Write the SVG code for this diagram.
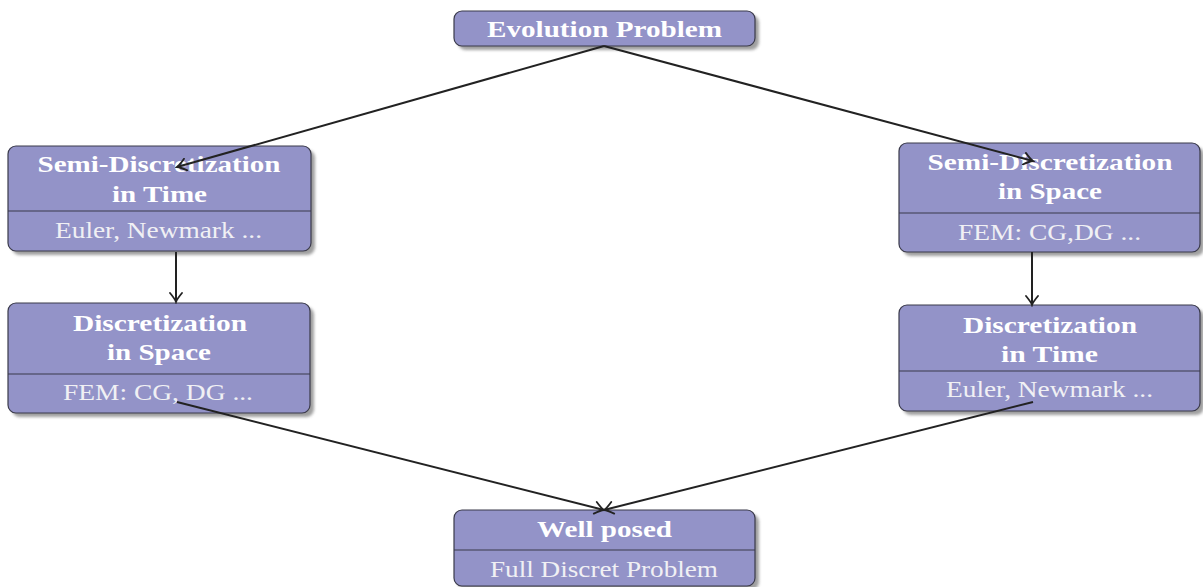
<svg xmlns="http://www.w3.org/2000/svg" width="1203" height="587" viewBox="0 0 1203 587">
<style>
.box{fill:#9393c8;stroke:#3a3a4a;stroke-width:1.2}
.shadow{fill:#808080;opacity:0.75;filter:url(#blur)}
.div{stroke:#3a3a4a;stroke-width:1.2}
.t{font-family:"Liberation Serif",serif;font-weight:bold;font-size:24px;fill:#ffffff;text-anchor:middle}
.s{font-family:"Liberation Serif",serif;font-size:24px;fill:#f0f0f4;text-anchor:middle}
.c{stroke:#222;stroke-width:2;fill:none;marker-end:url(#arr)}
</style>
<defs>
<filter id="blur" x="-10%" y="-10%" width="120%" height="130%"><feGaussianBlur stdDeviation="1.5"/></filter>
<marker id="arr" viewBox="-12 -7 14 14" refX="0" refY="0" markerWidth="14" markerHeight="14" markerUnits="userSpaceOnUse" orient="auto">
<path d="M-9,-6 Q-3,-1 0,0 Q-3,1 -9,6" fill="none" stroke="#222" stroke-width="1.8" stroke-linecap="round"/>
</marker>
</defs>
<g id="evolution">
<rect class="shadow" x="458" y="15" width="301" height="35" rx="8"/>
<rect class="box" x="454" y="11" width="301" height="35" rx="8"/>
<text class="t" x="604.5" y="37" textLength="235" lengthAdjust="spacingAndGlyphs">Evolution Problem</text>
</g>
<g id="semi-time">
<rect class="shadow" x="12" y="150" width="303" height="105" rx="8"/>
<rect class="box" x="8" y="146" width="303" height="105" rx="8"/>
<line class="div" x1="8" y1="211" x2="311" y2="211"/>
<text class="t" x="159" y="172" textLength="243" lengthAdjust="spacingAndGlyphs">Semi-Discretization</text>
<text class="t" x="159.5" y="202" textLength="95" lengthAdjust="spacingAndGlyphs">in Time</text>
<text class="s" x="158.5" y="238" textLength="207" lengthAdjust="spacingAndGlyphs">Euler, Newmark ...</text>
</g>
<g id="semi-space">
<rect class="shadow" x="903" y="147" width="301" height="109" rx="8"/>
<rect class="box" x="899" y="143" width="301" height="109" rx="8"/>
<line class="div" x1="899" y1="213" x2="1200" y2="213"/>
<text class="t" x="1050" y="170" textLength="245" lengthAdjust="spacingAndGlyphs">Semi-Discretization</text>
<text class="t" x="1050" y="199" textLength="104" lengthAdjust="spacingAndGlyphs">in Space</text>
<text class="s" x="1049.5" y="240" textLength="183" lengthAdjust="spacingAndGlyphs">FEM: CG,DG ...</text>
</g>
<g id="disc-space">
<rect class="shadow" x="12" y="307" width="302" height="110" rx="8"/>
<rect class="box" x="8" y="303" width="302" height="110" rx="8"/>
<line class="div" x1="8" y1="374" x2="310" y2="374"/>
<text class="t" x="160" y="331" textLength="174" lengthAdjust="spacingAndGlyphs">Discretization</text>
<text class="t" x="159" y="360" textLength="104" lengthAdjust="spacingAndGlyphs">in Space</text>
<text class="s" x="158" y="400" textLength="190" lengthAdjust="spacingAndGlyphs">FEM: CG, DG ...</text>
</g>
<g id="disc-time">
<rect class="shadow" x="903" y="309" width="301" height="106" rx="8"/>
<rect class="box" x="899" y="305" width="301" height="106" rx="8"/>
<line class="div" x1="899" y1="371" x2="1200" y2="371"/>
<text class="t" x="1050" y="333" textLength="174" lengthAdjust="spacingAndGlyphs">Discretization</text>
<text class="t" x="1049.5" y="362" textLength="97" lengthAdjust="spacingAndGlyphs">in Time</text>
<text class="s" x="1049.5" y="397" textLength="207" lengthAdjust="spacingAndGlyphs">Euler, Newmark ...</text>
</g>
<g id="well-posed">
<rect class="shadow" x="458" y="514" width="301" height="76" rx="8"/>
<rect class="box" x="454" y="510" width="301" height="76" rx="8"/>
<line class="div" x1="454" y1="550" x2="755" y2="550"/>
<text class="t" x="604.5" y="537" textLength="135" lengthAdjust="spacingAndGlyphs">Well posed</text>
<text class="s" x="604" y="577" textLength="228" lengthAdjust="spacingAndGlyphs">Full Discret Problem</text>
</g>
<g id="connectors">
<line class="c" x1="604" y1="46" x2="177" y2="167"/>
<line class="c" x1="604" y1="46" x2="1033" y2="161"/>
<line class="c" x1="176" y1="252" x2="176" y2="302"/>
<line class="c" x1="1032" y1="252" x2="1032" y2="305"/>
<line class="c" x1="177" y1="402" x2="604" y2="510"/>
<line class="c" x1="1033" y1="402" x2="604" y2="510"/>
</g>
</svg>
